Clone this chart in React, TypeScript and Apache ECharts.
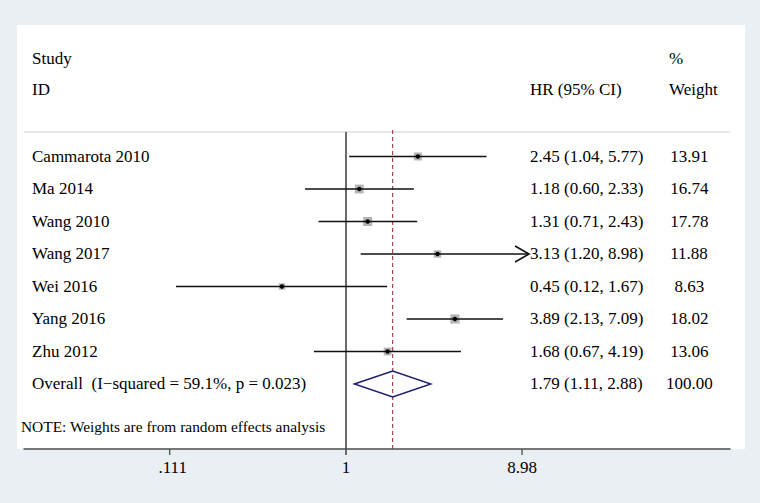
import React, { useEffect, useRef } from "react";
import * as echarts from "echarts";

// ---- data ----
const studies = ["Cammarota 2010", "Ma 2014", "Wang 2010", "Wang 2017", "Wei 2016", "Yang 2016", "Zhu 2012"];
const hr = [2.45, 1.18, 1.31, 3.13, 0.45, 3.89, 1.68];
const lower = [1.04, 0.6, 0.71, 1.2, 0.12, 2.13, 0.67];
const upper = [5.77, 2.33, 2.43, 8.98, 1.67, 7.09, 4.19];
const weights = [13.91, 16.74, 17.78, 11.88, 8.63, 18.02, 13.06];
const overallLabel = "Overall  (I\u2212squared = 59.1%, p = 0.023)";
const overallEst = [1.79, 1.11, 2.88];
const overallWeight = 100.0;
const tickValues = [0.111, 1, 8.98];
const tickLabels = [".111", "1", "8.98"];
const headerTop = ["Study", "%"];
const headerBottom = ["ID", "HR (95% CI)", "Weight"];
const note = "NOTE: Weights are from random effects analysis";

// ---- layout ----
const FONT = '"Liberation Serif", "Times New Roman", Times, serif';
const FS = 17;
const X_MIN = -4.015;
const X_MAX = 4.788;
const Y_MIN = -4.046;
const Y_MAX = 9.0;
const ROW_H1 = -3.03;
const ROW_H2 = -2.05;
const ROW_SEP = -0.754;
const ROW_NOTE = 8.32;
const NAME_X = 32;
const HR_X = 530;
const W_X = 666;
const HEAD_W_X = 669;
const SQ_K = 2.15;

const LN = Math.log;
const fmt2 = (v: number) => v.toFixed(2);
const ciText = (a: number, b: number, c: number) => `${fmt2(a)} (${fmt2(b)}, ${fmt2(c)})`;

export default function App() {
  const ref = useRef<HTMLDivElement>(null);
  useEffect(() => {
    if (!ref.current) return;
    const chart = echarts.init(ref.current, undefined, { renderer: "svg" });
    const cap = LN(tickValues[tickValues.length - 1]);
    const tickLn = tickValues.map((v) => LN(v));
    const txt = (x: number, y: number, text: string, extra: any = {}) => ({
      type: "text",
      x,
      y,
      style: {
        text,
        fill: "#000",
        font: `${extra.fs || FS}px ${FONT}`,
        textAlign: extra.align || "left",
        textVerticalAlign: "middle",
      },
    });

    const studyData = studies.map((s, i) => [i, LN(hr[i]), LN(lower[i]), LN(upper[i]), weights[i]]);

    const option: any = {
      animation: false,
      backgroundColor: "#e9eff2",
      graphic: {
        elements: [
          {
            type: "rect",
            z: -10,
            shape: { x: 17, y: 25, width: 728, height: 424 },
            style: { fill: "#ffffff" },
          },
        ],
      },
      grid: { left: 24, right: 30, top: 25, bottom: 54 },
      xAxis: {
        type: "value",
        min: X_MIN,
        max: X_MAX,
        z: 5,
        position: "bottom",
        splitLine: { show: false },
        axisLine: { show: true, onZero: false, lineStyle: { color: "#4d4d4d", width: 1.5 } },
        axisTick: { show: false },
        axisLabel: {
          customValues: tickLn,
          margin: 10,
          formatter: (v: number) => {
            let best = 0;
            tickLn.forEach((t, i) => {
              if (Math.abs(t - v) < Math.abs(tickLn[best] - v)) best = i;
            });
            return best === 0 ? `{o|${tickLabels[best]}}` : tickLabels[best];
          },
          color: "#000",
          fontFamily: FONT,
          fontSize: FS,
          rich: { o: { padding: [0, 0, 0, 6], fontFamily: FONT, fontSize: FS, color: "#000" } },
        },
      },
      yAxis: { type: "value", inverse: true, min: Y_MIN, max: Y_MAX, show: false },
      series: [
        {
          // reference lines and ticks
          type: "custom",
          z: 2,
          data: [[0, LN(overallEst[0])]],
          renderItem: (params: any, api: any) => {
            const cs = params.coordSys;
            const ySep = api.coord([0, ROW_SEP])[1];
            const yBot = cs.y + cs.height;
            const x0 = api.coord([api.value(0), 0])[0];
            const xo = api.coord([api.value(1), 0])[0];
            const ticks = tickLn.map((t) => {
              const x = api.coord([t, 0])[0];
              return {
                type: "line",
                shape: { x1: x, y1: yBot, x2: x, y2: yBot + 6 },
                style: { stroke: "#4d4d4d", lineWidth: 1.3 },
              };
            });
            return {
              type: "group",
              children: [
                {
                  type: "line",
                  shape: { x1: cs.x, y1: ySep, x2: cs.x + cs.width, y2: ySep },
                  style: { stroke: "#cfcfcf", lineWidth: 1 },
                },
                ...ticks,
                {
                  type: "line",
                  shape: { x1: x0, y1: ySep, x2: x0, y2: yBot + 6 },
                  style: { stroke: "#6b6b6b", lineWidth: 2 },
                },
                {
                  type: "line",
                  shape: { x1: xo, y1: ySep - 2, x2: xo, y2: yBot },
                  style: { stroke: "#8b2332", lineWidth: 1, lineDash: [4, 3] },
                },
              ],
            };
          },
        },
        {
          // studies
          type: "custom",
          z: 3,
          data: studyData,
          renderItem: (params: any, api: any) => {
            const row = api.value(0);
            const c = api.value(1);
            const lo = api.value(2);
            const hi = api.value(3);
            const w = api.value(4);
            const capped = hi >= cap - 1e-9;
            const p0 = api.coord([lo, row]);
            const p1 = api.coord([Math.min(hi, cap), row]);
            const pc = api.coord([c, row]);
            const side = SQ_K * Math.sqrt(w);
            const tipX = p1[0] + 7;
            const children: any[] = [
              {
                type: "rect",
                shape: { x: pc[0] - side / 2, y: pc[1] - side / 2, width: side, height: side },
                style: { fill: "#b4b4b4" },
              },
              {
                type: "line",
                shape: { x1: p0[0], y1: p0[1], x2: capped ? tipX : p1[0], y2: p1[1] },
                style: { stroke: "#111", lineWidth: 1.6 },
              },
              {
                type: "circle",
                shape: { cx: pc[0], cy: pc[1], r: 2.2 },
                style: { fill: "#000" },
              },
            ];
            if (capped) {
              children.push({
                type: "polyline",
                shape: { points: [[tipX - 14, p1[1] - 8], [tipX, p1[1]], [tipX - 14, p1[1] + 8]] },
                style: { stroke: "#111", lineWidth: 1.6, fill: "none" },
              });
            }
            return { type: "group", children };
          },
        },
        {
          // overall diamond
          type: "custom",
          z: 3,
          data: [[7, LN(overallEst[0]), LN(overallEst[1]), LN(overallEst[2])]],
          renderItem: (params: any, api: any) => {
            const row = api.value(0);
            const pc = api.coord([api.value(1), row]);
            const pl = api.coord([api.value(2), row]);
            const pr = api.coord([api.value(3), row]);
            const h = 13;
            return {
              type: "polygon",
              shape: { points: [[pl[0], pc[1]], [pc[0], pc[1] - h], [pr[0], pc[1]], [pc[0], pc[1] + h]] },
              style: { fill: "none", stroke: "#1c1c6e", lineWidth: 1.4 },
            };
          },
        },
        {
          // table text
          type: "custom",
          z: 4,
          data: [[0, 0]],
          renderItem: (params: any, api: any) => {
            const y = (r: number) => api.coord([0, r])[1];
            const wText = (s: string, r: number) => txt(W_X + (6 - s.length) * 0.25 * FS, y(r), s);
            const children: any[] = [
              txt(NAME_X, y(ROW_H1), headerTop[0]),
              txt(HEAD_W_X, y(ROW_H1), headerTop[1]),
              txt(NAME_X, y(ROW_H2), headerBottom[0]),
              txt(HR_X, y(ROW_H2), headerBottom[1]),
              txt(HEAD_W_X, y(ROW_H2), headerBottom[2]),
            ];
            studies.forEach((s, i) => {
              children.push(txt(NAME_X, y(i), s));
              children.push(txt(HR_X, y(i), ciText(hr[i], lower[i], upper[i])));
              children.push(wText(fmt2(weights[i]), i));
            });
            children.push(txt(NAME_X, y(7), overallLabel));
            children.push(txt(HR_X, y(7), ciText(overallEst[0], overallEst[1], overallEst[2])));
            children.push(wText(fmt2(overallWeight), 7));
            children.push(txt(21, y(ROW_NOTE), note, { fs: 15.4 }));
            return { type: "group", children };
          },
        },
      ],
    };
    chart.setOption(option);
    return () => chart.dispose();
  }, []);
  return (
    <div
      ref={ref}
      style={{ position: "fixed", left: 0, top: 0, width: 760, height: 503 }}
    />
  );
}
